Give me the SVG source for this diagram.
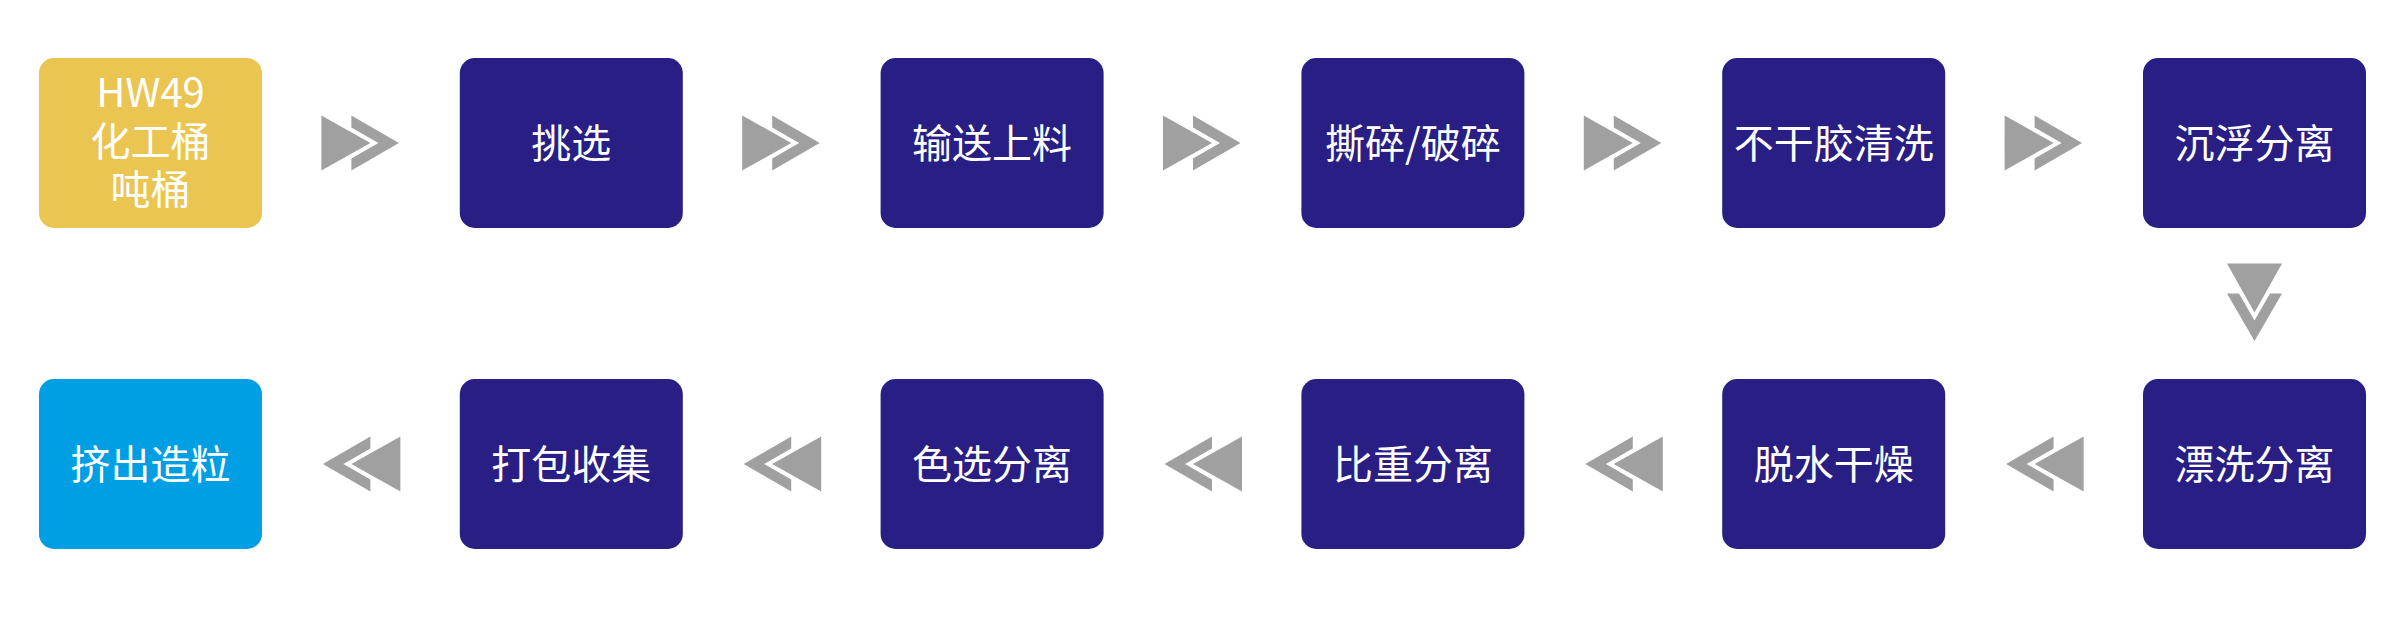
<svg xmlns="http://www.w3.org/2000/svg" width="2400" height="624" viewBox="0 0 2400 624">
  <style>
    .box { stroke: none; }
    .navy { fill: #281E84; }
    .yellow { fill: #EBC552; }
    .blue { fill: #009FE3; }
    .lbl { font-family: "Noto Sans CJK SC", "Noto Sans", sans-serif; font-size: 40px; fill: #FFFFFF; text-anchor: middle; }
    .arrow { fill: #A0A0A0; }
  </style>
  <defs>
    <g id="arr" class="arrow">
      <polygon points="-39.5,-27.5 9.5,0 -39.5,27.5"/>
      <polygon points="-9.5,-27.5 38,0 -9.5,27.5 -9.5,15.5 17.5,0 -9.5,-15.5"/>
    </g>
  </defs>
  <rect width="2400" height="624" fill="#FFFFFF"/>

  <g id="connectors">
    <use href="#arr" transform="translate(360.9,143)"/>
    <use href="#arr" transform="translate(781.7,143)"/>
    <use href="#arr" transform="translate(1202.5,143)"/>
    <use href="#arr" transform="translate(1623.3,143)"/>
    <use href="#arr" transform="translate(2044.1,143)"/>
    <use href="#arr" transform="translate(2254.5,303) rotate(90)"/>
    <use href="#arr" transform="translate(2044.1,464) scale(-1,1)"/>
    <use href="#arr" transform="translate(1623.3,464) scale(-1,1)"/>
    <use href="#arr" transform="translate(1202.5,464) scale(-1,1)"/>
    <use href="#arr" transform="translate(781.7,464) scale(-1,1)"/>
    <use href="#arr" transform="translate(360.9,464) scale(-1,1)"/>
  </g>

  <g id="n1">
    <rect class="box yellow" x="39" y="58" width="223" height="170" rx="15"/>
    <text class="lbl" x="150.5" y="107">HW49</text>
    <text class="lbl" x="150.5" y="155.5">化工桶</text>
    <text class="lbl" x="150.5" y="204">吨桶</text>
  </g>
  <g id="n2">
    <rect class="box navy" x="459.8" y="58" width="223" height="170" rx="15"/>
    <text class="lbl" x="571.3" y="158">挑选</text>
  </g>
  <g id="n3">
    <rect class="box navy" x="880.6" y="58" width="223" height="170" rx="15"/>
    <text class="lbl" x="992.1" y="158">输送上料</text>
  </g>
  <g id="n4">
    <rect class="box navy" x="1301.4" y="58" width="223" height="170" rx="15"/>
    <text class="lbl" x="1412.9" y="158">撕碎/破碎</text>
  </g>
  <g id="n5">
    <rect class="box navy" x="1722.2" y="58" width="223" height="170" rx="15"/>
    <text class="lbl" x="1833.7" y="158">不干胶清洗</text>
  </g>
  <g id="n6">
    <rect class="box navy" x="2143" y="58" width="223" height="170" rx="15"/>
    <text class="lbl" x="2254.5" y="158">沉浮分离</text>
  </g>
  <g id="n7">
    <rect class="box navy" x="2143" y="379" width="223" height="170" rx="15"/>
    <text class="lbl" x="2254.5" y="479">漂洗分离</text>
  </g>
  <g id="n8">
    <rect class="box navy" x="1722.2" y="379" width="223" height="170" rx="15"/>
    <text class="lbl" x="1833.7" y="479">脱水干燥</text>
  </g>
  <g id="n9">
    <rect class="box navy" x="1301.4" y="379" width="223" height="170" rx="15"/>
    <text class="lbl" x="1412.9" y="479">比重分离</text>
  </g>
  <g id="n10">
    <rect class="box navy" x="880.6" y="379" width="223" height="170" rx="15"/>
    <text class="lbl" x="992.1" y="479">色选分离</text>
  </g>
  <g id="n11">
    <rect class="box navy" x="459.8" y="379" width="223" height="170" rx="15"/>
    <text class="lbl" x="571.3" y="479">打包收集</text>
  </g>
  <g id="n12">
    <rect class="box blue" x="39" y="379" width="223" height="170" rx="15"/>
    <text class="lbl" x="150.5" y="479">挤出造粒</text>
  </g>
</svg>
